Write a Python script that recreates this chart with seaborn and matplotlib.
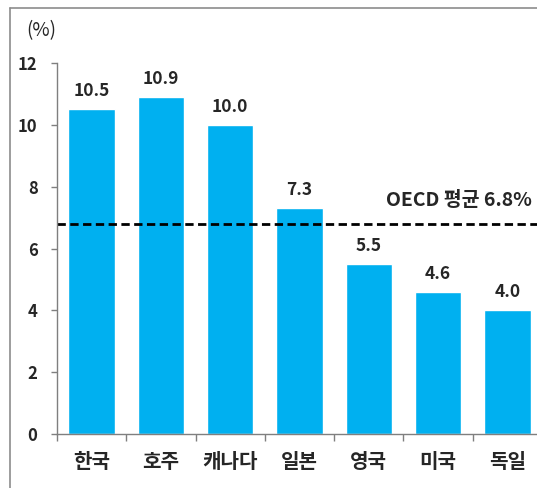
import matplotlib
matplotlib.use("Agg")
import matplotlib.pyplot as plt
import seaborn as sns
import pandas as pd
from matplotlib.lines import Line2D

countries = ["한국", "호주", "캐나다", "일본", "영국", "미국", "독일"]
values = [10.5, 10.9, 10.0, 7.3, 5.5, 4.6, 4.0]
oecd_avg = 6.8
oecd_label = "OECD 평균 6.8%"
y_ticks = [0, 2, 4, 6, 8, 10, 12]

sns.set_style("white")
plt.rcParams["font.family"] = ["Noto Sans CJK KR", "DejaVu Sans"]

W, H = 537, 488
fig = plt.figure(figsize=(W / 100, H / 100), dpi=100)
ax = fig.add_axes([57 / W, 1 - 434 / H, (542 - 57) / W, (434 - 63) / H])

df = pd.DataFrame({"country": countries, "value": values})
sns.barplot(data=df, x="country", y="value", color="#00B0F0", saturation=1,
            width=0.67, ax=ax)

ax.set_xlim(-0.5, len(countries) - 0.5)
ax.set_ylim(0, 12)
ax.set_yticks(y_ticks)
ax.set_yticklabels([str(t) for t in y_ticks], fontsize=12, fontweight="bold")
ax.set_xlabel("")
ax.set_ylabel("")

for s in ["top", "right"]:
    ax.spines[s].set_visible(False)
for s in ["left", "bottom"]:
    ax.spines[s].set_color("#7f7f7f")
    ax.spines[s].set_linewidth(1)

ax.tick_params(axis="y", length=4, width=1, color="#7f7f7f", direction="out",
               left=True, pad=10)
# x tick marks at category boundaries
ax.set_xticks([i + 0.5 for i in range(-1, len(countries))], minor=True)
ax.set_xticks(range(len(countries)))
ax.set_xticklabels(countries, fontsize=14.5, fontweight="bold")
ax.tick_params(axis="x", which="major", length=0, pad=12)
ax.tick_params(axis="x", which="minor", length=5, width=1, color="#7f7f7f",
               direction="out", bottom=True)

for i, v in enumerate(values):
    ax.text(i, v + 0.3, f"{v:.1f}", ha="center", va="bottom",
            fontsize=12.5, fontweight="bold")

ax.axhline(oecd_avg, color="black", linestyle=(0, (3, 1.6)), linewidth=2)
ax.text(6.35, oecd_avg + 0.45, oecd_label, ha="right", va="bottom",
        fontsize=14, fontweight="bold")

fig.text(26 / W, 1 - 31 / H, "(%)", ha="left", va="center", fontsize=13.5)

# outer frame (partially visible)
fig.add_artist(Line2D([10 / W, 1], [1 - 8 / H, 1 - 8 / H], color="#8c8c8c",
                      linewidth=1.2, transform=fig.transFigure))
fig.add_artist(Line2D([10 / W, 10 / W], [0, 1 - 8 / H], color="#8c8c8c",
                      linewidth=1.2, transform=fig.transFigure))

fig.savefig("out.png", dpi=100)
